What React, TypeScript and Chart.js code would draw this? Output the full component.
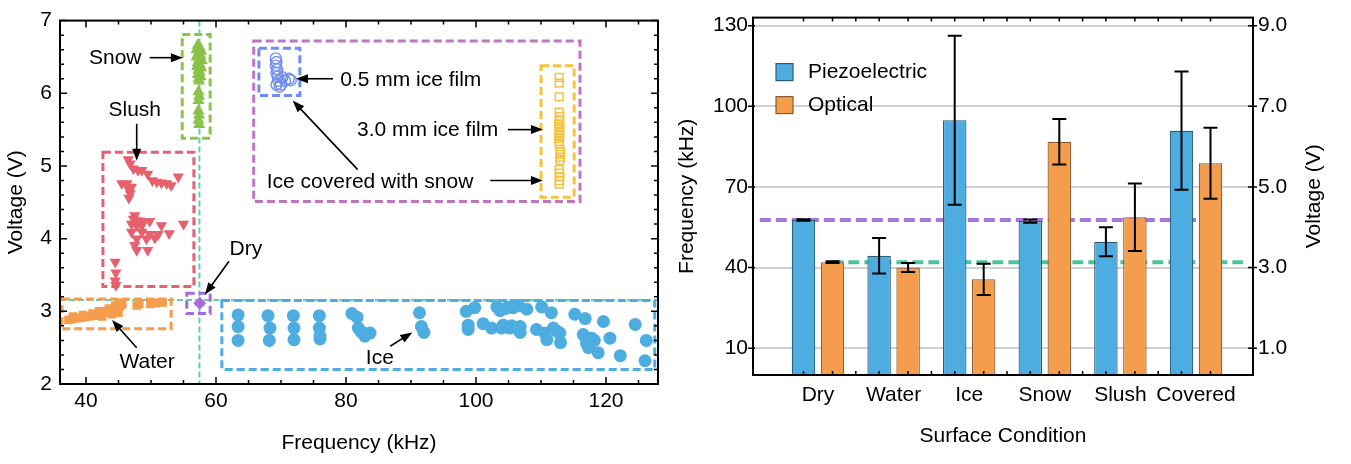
import React, { useEffect, useRef } from "react";
import { Chart, registerables } from "chart.js";

Chart.register(...registerables);

const FONT = '"Liberation Sans", Arial, Helvetica, sans-serif';
const FS = 21;

// ---------------- Left panel: scatter (frequency kHz, voltage V) ----------------
const leftFreqTicks = [40, 60, 80, 100, 120];
const leftVoltTicks = [2, 3, 4, 5, 6, 7];

const icePoints = [
  [63.4, 2.95], [63.4, 2.79], [63.4, 2.6],
  [68.0, 2.94], [68.3, 2.77], [68.2, 2.6],
  [71.9, 2.94], [72.0, 2.77], [72.0, 2.61],
  [75.9, 2.94], [75.9, 2.77], [76.0, 2.66], [76.0, 2.62],
  [80.9, 2.97], [81.7, 2.92], [81.9, 2.77], [82.7, 2.7], [83.7, 2.7], [82.9, 2.66], [82.3, 2.72],
  [91.3, 2.98], [91.6, 2.79], [92.0, 2.71],
  [98.5, 3.0], [99.8, 3.05], [98.8, 2.81], [98.8, 2.75], [101.1, 2.83], [102.4, 2.77], [103.2, 3.06],
  [103.7, 3.01], [104.2, 2.81], [105.0, 3.06], [105.2, 2.77], [105.7, 3.05], [106.5, 3.08], [106.8, 2.79],
  [107.8, 3.03], [106.8, 2.71], [104.6, 3.04], [105.5, 2.8], [103.9, 2.77],
  [110.1, 3.06], [111.6, 2.98], [109.3, 2.75], [110.6, 2.7], [110.9, 2.61], [111.9, 2.77], [112.9, 2.7],
  [113.0, 2.57], [112.4, 2.73],
  [115.2, 2.96], [116.8, 2.9], [116.5, 2.68], [117.8, 2.63], [117.3, 2.5], [118.8, 2.43], [119.6, 2.86],
  [120.6, 2.63], [122.2, 2.39], [124.5, 2.82], [126.2, 2.6], [126.0, 2.32], [117.0, 2.56], [118.2, 2.6],
];

const waterPoints = [
  [37.3, 2.88], [37.8, 2.89], [38.5, 2.9], [39.2, 2.91], [39.8, 2.92], [40.5, 2.93], [41.2, 2.94],
  [41.8, 2.95], [42.3, 2.97], [42.8, 2.98], [43.3, 3.0], [43.8, 3.01], [44.3, 3.03], [44.8, 3.05],
  [45.3, 3.07], [45.6, 3.1], [42.5, 2.93], [44.0, 2.96], [45.0, 2.98], [47.8, 3.08], [48.2, 3.1],
  [49.9, 3.1], [50.6, 3.11], [51.1, 3.12], [51.8, 3.12],
  [38.0, 2.93], [39.5, 2.95], [41.0, 2.97], [42.0, 3.0], [43.5, 3.04], [44.5, 3.08], [45.2, 3.12],
];

const dryPoints = [[57.5, 3.11]];

const slushPoints = [
  [46.5, 5.09], [46.8, 5.03], [47.3, 4.96], [48.0, 4.94], [48.6, 4.94], [49.5, 4.89], [50.2, 4.8],
  [50.9, 4.78], [51.6, 4.77], [52.4, 4.76], [53.1, 4.73], [54.2, 4.85], [45.5, 4.76], [46.3, 4.76],
  [46.5, 4.69], [46.8, 4.62], [46.6, 4.56], [47.0, 4.71],
  [47.5, 4.32], [47.3, 4.27], [48.0, 4.25], [48.8, 4.24], [49.8, 4.24], [47.0, 4.2], [47.8, 4.18],
  [48.6, 4.18], [51.6, 4.18], [55.0, 4.2], [47.0, 4.09], [48.6, 4.09], [49.8, 4.06], [51.1, 4.06],
  [52.8, 4.07], [47.8, 4.0], [49.3, 4.0], [50.6, 4.01], [47.8, 3.84], [49.5, 3.84], [47.5, 3.91],
  [44.5, 3.68], [44.6, 3.53], [44.5, 3.42], [44.6, 3.36],
];

const snowPoints = [
  [57.2, 6.66], [57.5, 6.63], [57.0, 6.6], [57.7, 6.58], [57.3, 6.55], [57.6, 6.52], [57.0, 6.5],
  [57.4, 6.47], [57.8, 6.45], [57.2, 6.42], [57.5, 6.4], [57.1, 6.37], [57.7, 6.35], [57.3, 6.32],
  [57.5, 6.29], [57.2, 6.26], [57.6, 6.23], [57.3, 6.2], [57.4, 6.17], [57.3, 6.02], [57.4, 5.96],
  [57.3, 5.9], [57.3, 5.76], [57.4, 5.7], [57.3, 5.63], [57.4, 5.57],
];

const film05Points = [
  [69.2, 6.48], [69.3, 6.43], [69.2, 6.38], [69.4, 6.33], [69.3, 6.28], [69.5, 6.23], [69.6, 6.17],
  [69.3, 6.12], [70.0, 6.12], [70.6, 6.17], [71.2, 6.2], [71.5, 6.18], [70.2, 6.22], [69.8, 6.09],
];

const film30Points = [
  [112.8, 6.22], [112.8, 6.14], [112.8, 5.95], [112.8, 5.74], [112.9, 5.68], [112.8, 5.62], [112.7, 5.58],
  [112.9, 5.54], [112.8, 5.5], [112.8, 5.46], [112.9, 5.42], [112.7, 5.38], [112.8, 5.34], [112.8, 5.3],
  [113.0, 5.2], [112.9, 5.16], [113.0, 5.12], [112.9, 5.08], [112.8, 4.95], [112.8, 4.9], [112.9, 4.85],
  [112.8, 4.8], [112.8, 4.75],
];

// ---------------- Right panel: bars ----------------
const categories = ["Dry", "Water", "Ice", "Snow", "Slush", "Covered"];
const piezoFreq = [57.7, 44.4, 94.8, 57.3, 49.6, 90.9];
const piezoErr = [0.3, 6.6, 31.4, 0.6, 5.4, 22.0];
const opticalFreq = [42.0, 40.0, 35.6, 86.8, 58.7, 78.8];
const opticalErr = [0.3, 1.7, 5.8, 8.5, 12.6, 13.2];
const freqTicks = [10, 40, 70, 100, 130];
const voltTicks = [1, 3, 5, 7, 9];
const dryPiezoLevel = 57.7;
const dryOpticalLevel = 42.0;

// colours
const BLUE = "#4eade0";
const ORANGE = "#f49d4c";
const GREEN = "#8bc34a";
const RED = "#e6606e";
const DRY_PURPLE = "#a66bd8";
const BOX_PURPLE = "#c274c2";
const FILM_BLUE = "#6f8cf2";
const YELLOW = "#f8c23a";
const TEAL = "#64cdb0";

// annotations of left panel (data coordinates)
const leftBoxes = [
  { x1: 54.8, x2: 59.1, y1: 5.38, y2: 6.81, color: GREEN },
  { x1: 42.6, x2: 56.6, y1: 3.34, y2: 5.19, color: RED },
  { x1: 65.8, x2: 116.0, y1: 4.51, y2: 6.72, color: BOX_PURPLE },
  { x1: 66.6, x2: 72.9, y1: 5.97, y2: 6.62, color: FILM_BLUE },
  { x1: 110.0, x2: 115.1, y1: 4.57, y2: 6.38, color: YELLOW },
  { x1: 36.3, x2: 53.1, y1: 2.76, y2: 3.17, color: ORANGE },
  { x1: 55.5, x2: 59.1, y1: 2.97, y2: 3.25, color: DRY_PURPLE },
  { x1: 60.9, x2: 127.5, y1: 2.2, y2: 3.15, color: BLUE },
];
const guideFreq = 57.45;
const guideVolt = 3.155;
const leftLabels = [
  { text: "Snow", x: 44.5, y: 6.48, align: "center" },
  { text: "Slush", x: 47.5, y: 5.77, align: "center" },
  { text: "0.5 mm ice film", x: 79.1, y: 6.18, align: "left" },
  { text: "3.0 mm ice film", x: 81.7, y: 5.49, align: "left" },
  { text: "Ice covered with snow", x: 67.8, y: 4.78, align: "left" },
  { text: "Dry", x: 64.6, y: 3.86, align: "center" },
  { text: "Water", x: 49.4, y: 2.3, align: "center" },
  { text: "Ice", x: 85.2, y: 2.35, align: "center" },
];
const leftArrows = [
  { from: [49.8, 6.49], to: [54.9, 6.49] },
  { from: [47.8, 5.58], to: [47.8, 5.07] },
  { from: [78.0, 6.2], to: [72.3, 6.2] },
  { from: [81.8, 4.95], to: [71.8, 5.9] },
  { from: [102.2, 4.8], to: [110.3, 4.8] },
  { from: [104.9, 5.5], to: [110.3, 5.5] },
  { from: [62.0, 3.69], to: [58.3, 3.23] },
  { from: [47.8, 2.5], to: [44.0, 2.88] },
  { from: [86.8, 2.52], to: [90.2, 2.71] },
];

const toXY = (pts: number[][]) => pts.map(([x, y]) => ({ x, y }));

function drawArrow(ctx: CanvasRenderingContext2D, x1: number, y1: number, x2: number, y2: number) {
  const ang = Math.atan2(y2 - y1, x2 - x1);
  const hl = 12;
  const hw = 4.5;
  const bx = x2 - Math.cos(ang) * hl;
  const by = y2 - Math.sin(ang) * hl;
  ctx.setLineDash([]);
  ctx.strokeStyle = "#000";
  ctx.fillStyle = "#000";
  ctx.lineWidth = 1.6;
  ctx.beginPath();
  ctx.moveTo(x1, y1);
  ctx.lineTo(bx + Math.cos(ang) * 2, by + Math.sin(ang) * 2);
  ctx.stroke();
  ctx.beginPath();
  ctx.moveTo(x2, y2);
  ctx.lineTo(bx - Math.sin(ang) * hw, by + Math.cos(ang) * hw);
  ctx.lineTo(bx + Math.sin(ang) * hw, by - Math.cos(ang) * hw);
  ctx.closePath();
  ctx.fill();
}

const leftDecor = {
  id: "leftDecor",
  beforeDatasetsDraw(chart: any) {
    const { ctx, chartArea: a, scales } = chart;
    const x = scales.x;
    const y = scales.y;
    ctx.save();
    ctx.beginPath();
    ctx.rect(a.left, a.top, a.right - a.left, a.bottom - a.top);
    ctx.clip();
    // guide lines
    ctx.strokeStyle = TEAL;
    ctx.lineWidth = 2;
    ctx.setLineDash([6, 3]);
    const gx = x.getPixelForValue(guideFreq);
    const gy = y.getPixelForValue(guideVolt);
    ctx.beginPath();
    ctx.moveTo(gx, a.top);
    ctx.lineTo(gx, a.bottom);
    ctx.moveTo(a.left, gy);
    ctx.lineTo(a.right, gy);
    ctx.stroke();
    // boxes
    ctx.lineWidth = 3;
    ctx.setLineDash([8, 4]);
    for (const b of leftBoxes) {
      const px1 = x.getPixelForValue(b.x1);
      const px2 = x.getPixelForValue(b.x2);
      const py1 = y.getPixelForValue(b.y2);
      const py2 = y.getPixelForValue(b.y1);
      ctx.strokeStyle = b.color;
      ctx.strokeRect(px1, py1, px2 - px1, py2 - py1);
    }
    ctx.restore();
  },
  afterDatasetsDraw(chart: any) {
    const { ctx, chartArea: a, scales } = chart;
    const x = scales.x;
    const y = scales.y;
    ctx.save();
    for (const ar of leftArrows) {
      drawArrow(
        ctx,
        x.getPixelForValue(ar.from[0]),
        y.getPixelForValue(ar.from[1]),
        x.getPixelForValue(ar.to[0]),
        y.getPixelForValue(ar.to[1])
      );
    }
    ctx.fillStyle = "#000";
    ctx.font = `${FS}px ${FONT}`;
    ctx.textBaseline = "middle";
    for (const l of leftLabels) {
      ctx.textAlign = l.align as CanvasTextAlign;
      ctx.fillText(l.text, x.getPixelForValue(l.x), y.getPixelForValue(l.y));
    }
    // frame
    ctx.setLineDash([]);
    ctx.strokeStyle = "#000";
    ctx.lineWidth = 2;
    ctx.strokeRect(a.left, a.top, a.right - a.left, a.bottom - a.top);
    // ticks
    ctx.lineWidth = 1.5;
    ctx.beginPath();
    for (let f = 40; f <= 125; f += 5) {
      const px = x.getPixelForValue(f);
      const len = f % 20 === 0 ? 7 : 4;
      ctx.moveTo(px, a.bottom);
      ctx.lineTo(px, a.bottom - len);
      ctx.moveTo(px, a.top);
      ctx.lineTo(px, a.top + len);
    }
    for (let k = 0; k <= 25; k++) {
      const v = 2 + k * 0.2;
      const py = y.getPixelForValue(v);
      const len = k % 5 === 0 ? 7 : 4;
      ctx.moveTo(a.left, py);
      ctx.lineTo(a.left + len, py);
      ctx.moveTo(a.right, py);
      ctx.lineTo(a.right - len, py);
    }
    ctx.stroke();
    ctx.restore();
  },
};

const rightDecor = {
  id: "rightDecor",
  beforeDatasetsDraw(chart: any) {
    const { ctx, scales } = chart;
    const x = scales.x;
    const y = scales.y;
    ctx.save();
    ctx.lineWidth = 4;
    ctx.setLineDash([11, 5]);
    ctx.strokeStyle = "#a674dd";
    ctx.beginPath();
    ctx.moveTo(x.getPixelForValue(-0.77), y.getPixelForValue(dryPiezoLevel));
    ctx.lineTo(x.getPixelForValue(5.0), y.getPixelForValue(dryPiezoLevel));
    ctx.stroke();
    ctx.strokeStyle = "#4cc59c";
    ctx.beginPath();
    ctx.moveTo(x.getPixelForValue(0.19), y.getPixelForValue(dryOpticalLevel));
    ctx.lineTo(x.getPixelForValue(5.62), y.getPixelForValue(dryOpticalLevel));
    ctx.stroke();
    ctx.restore();
  },
  afterDatasetsDraw(chart: any) {
    const { ctx, chartArea: a, scales } = chart;
    const x = scales.x;
    const y = scales.y;
    const y1 = scales.y1;
    ctx.save();
    // error bars
    const errs = [piezoErr, opticalErr];
    const vals = [piezoFreq, opticalFreq];
    ctx.strokeStyle = "#000";
    ctx.lineWidth = 2;
    for (let d = 0; d < 2; d++) {
      const meta = chart.getDatasetMeta(d);
      meta.data.forEach((el: any, i: number) => {
        const px = el.x;
        const t = y.getPixelForValue(vals[d][i] + errs[d][i]);
        const b = y.getPixelForValue(vals[d][i] - errs[d][i]);
        ctx.beginPath();
        ctx.moveTo(px, t);
        ctx.lineTo(px, b);
        ctx.moveTo(px - 7, t);
        ctx.lineTo(px + 7, t);
        ctx.moveTo(px - 7, b);
        ctx.lineTo(px + 7, b);
        ctx.stroke();
      });
    }
    // frame
    ctx.lineWidth = 2;
    ctx.strokeRect(a.left, a.top, a.right - a.left, a.bottom - a.top);
    // ticks
    ctx.lineWidth = 1.5;
    ctx.beginPath();
    const tickXs: number[] = [];
    for (let d = 0; d < 2; d++) {
      chart.getDatasetMeta(d).data.forEach((el: any) => tickXs.push(el.x));
    }
    for (let i = 0; i < categories.length - 1; i++) tickXs.push(x.getPixelForValue(i + 0.5));
    for (const px of tickXs) {
      ctx.moveTo(px, a.bottom);
      ctx.lineTo(px, a.bottom - 4);
      ctx.moveTo(px, a.top);
      ctx.lineTo(px, a.top + 4);
    }
    for (const f of freqTicks) {
      const py = y.getPixelForValue(f);
      ctx.moveTo(a.left - 5, py);
      ctx.lineTo(a.left + 2, py);
    }
    for (const v of voltTicks) {
      const py = y1.getPixelForValue(v);
      ctx.moveTo(a.right - 5, py);
      ctx.lineTo(a.right + 4, py);
    }
    ctx.stroke();
    // legend
    const ds = chart.data.datasets;
    ctx.font = `${FS}px ${FONT}`;
    ctx.textBaseline = "middle";
    ctx.textAlign = "left";
    ds.forEach((s: any, k: number) => {
      const bx = a.left + 23;
      const by = a.top + 46 + k * 33;
      ctx.fillStyle = s.backgroundColor;
      ctx.fillRect(bx, by, 17, 17);
      ctx.strokeStyle = s.borderColor;
      ctx.lineWidth = 1.2;
      ctx.strokeRect(bx, by, 17, 17);
      ctx.fillStyle = "#000";
      ctx.fillText(s.label, bx + 32, by + 9);
    });
    // right axis title (reads bottom-to-top)
    ctx.save();
    ctx.translate(a.right + 61, (a.top + a.bottom) / 2);
    ctx.rotate(-Math.PI / 2);
    ctx.textAlign = "center";
    ctx.textBaseline = "middle";
    ctx.fillStyle = "#000";
    ctx.fillText("Voltage (V)", 0, 0);
    ctx.restore();
    ctx.restore();
  },
};

function leftConfig(): any {
  const pt = (data: number[][], label: string, o: any) => ({
    label,
    data: toXY(data),
    pointHoverRadius: o.pointRadius,
    ...o,
  });
  return {
    type: "scatter",
    data: {
      datasets: [
        pt(icePoints, "Ice", { pointStyle: "circle", pointRadius: 6.5, pointBackgroundColor: BLUE, pointBorderColor: BLUE, pointBorderWidth: 0 }),
        pt(waterPoints, "Water", { pointStyle: "rect", pointRadius: 6, pointBackgroundColor: ORANGE, pointBorderColor: ORANGE, pointBorderWidth: 0 }),
        pt(dryPoints, "Dry", { pointStyle: "rectRot", pointRadius: 6.5, pointBackgroundColor: DRY_PURPLE, pointBorderColor: DRY_PURPLE, pointBorderWidth: 0 }),
        pt(slushPoints, "Slush", { pointStyle: "triangle", pointRotation: 180, pointRadius: 6.5, pointBackgroundColor: RED, pointBorderColor: RED, pointBorderWidth: 0 }),
        pt(snowPoints, "Snow", { pointStyle: "triangle", pointRadius: 7, pointBackgroundColor: GREEN, pointBorderColor: GREEN, pointBorderWidth: 0 }),
        pt(film05Points, "0.5 mm ice film", { pointStyle: "circle", pointRadius: 5.5, pointBackgroundColor: "rgba(255,255,255,0)", pointBorderColor: FILM_BLUE, pointBorderWidth: 1.4 }),
        pt(film30Points, "3.0 mm ice film", { pointStyle: "rect", pointRadius: 5.5, pointBackgroundColor: "rgba(255,255,255,0)", pointBorderColor: YELLOW, pointBorderWidth: 1.5 }),
      ],
    },
    options: {
      responsive: false,
      animation: false,
      events: [],
      layout: { padding: { left: 0, top: 11, right: 17, bottom: 0 } },
      plugins: { legend: { display: false }, tooltip: { enabled: false } },
      scales: {
        x: {
          type: "linear",
          min: 36,
          max: 128,
          grid: { display: false, drawTicks: false },
          border: { display: false },
          afterBuildTicks: (s: any) => { s.ticks = leftFreqTicks.map((v) => ({ value: v })); },
          afterFit: (s: any) => { s.height = 80; },
          ticks: { padding: 5, color: "#000", font: { size: FS, family: FONT }, autoSkip: false, maxRotation: 0 },
          title: { display: true, text: "Frequency (kHz)", color: "#000", font: { size: FS, family: FONT }, padding: { top: 0, bottom: 8 } },
        },
        y: {
          type: "linear",
          min: 2,
          max: 7,
          grid: { display: false, drawTicks: false },
          border: { display: false },
          afterBuildTicks: (s: any) => { s.ticks = leftVoltTicks.map((v) => ({ value: v })); },
          afterFit: (s: any) => { s.width = 60; },
          ticks: { padding: 8, color: "#000", font: { size: FS, family: FONT }, autoSkip: false },
          title: { display: true, text: "Voltage (V)", color: "#000", font: { size: FS, family: FONT }, padding: { top: 4, bottom: 0 } },
        },
      },
    },
    plugins: [leftDecor],
  };
}

function rightConfig(): any {
  const freqMin = 0;
  const freqMax = 133;
  const toVolt = (f: number) => (f + 5) / 15;
  return {
    type: "bar",
    data: {
      datasets: [
        {
          label: "Piezoelectric",
          data: categories.map((_, i) => ({ x: i, y: piezoFreq[i] })),
          backgroundColor: BLUE,
          borderColor: "#2b5c76",
          borderWidth: 1.2,
          categoryPercentage: 0.767,
          barPercentage: 0.81,
          yAxisID: "y",
        },
        {
          label: "Optical",
          data: categories.map((_, i) => ({ x: i, y: opticalFreq[i] })),
          backgroundColor: ORANGE,
          borderColor: "#8a5a2e",
          borderWidth: 1.2,
          categoryPercentage: 0.767,
          barPercentage: 0.81,
          yAxisID: "y",
        },
      ],
    },
    options: {
      responsive: false,
      animation: false,
      events: [],
      layout: { padding: { left: 0, top: 17, right: 0, bottom: 0 } },
      plugins: { legend: { display: false }, tooltip: { enabled: false } },
      scales: {
        x: {
          type: "linear",
          min: -0.86,
          max: 5.754,
          offset: false,
          grid: { display: false, drawTicks: false },
          border: { display: false },
          afterBuildTicks: (s: any) => { s.ticks = categories.map((_, i) => ({ value: i })); },
          afterFit: (s: any) => { s.height = 89; },
          ticks: {
            padding: 8,
            color: "#000",
            font: { size: FS, family: FONT },
            autoSkip: false,
            maxRotation: 0,
            callback: (v: any) => categories[Math.round(Number(v))],
          },
          title: { display: true, text: "Surface Condition", color: "#000", font: { size: FS, family: FONT }, padding: { top: 0, bottom: 15 } },
        },
        y: {
          type: "linear",
          position: "left",
          min: freqMin,
          max: freqMax,
          grid: { color: "#d0d0d0", lineWidth: 2, drawTicks: false },
          border: { display: false },
          afterBuildTicks: (s: any) => { s.ticks = freqTicks.map((v) => ({ value: v })); },
          afterFit: (s: any) => { s.width = 78; },
          ticks: { padding: 5, color: "#000", font: { size: FS, family: FONT }, autoSkip: false },
          title: { display: true, text: "Frequency (kHz)", color: "#000", font: { size: FS, family: FONT }, padding: { top: 0, bottom: 0 } },
        },
        y1: {
          type: "linear",
          position: "right",
          min: toVolt(freqMin),
          max: toVolt(freqMax),
          grid: { display: false, drawTicks: false },
          border: { display: false },
          afterBuildTicks: (s: any) => { s.ticks = voltTicks.map((v) => ({ value: v })); },
          afterFit: (s: any) => { s.width = 98; },
          ticks: {
            padding: 5,
            color: "#000",
            font: { size: FS, family: FONT },
            autoSkip: false,
            callback: (v: any) => Number(v).toFixed(1),
          },
        },
      },
    },
    plugins: [rightDecor],
  };
}

export default function App() {
  const leftRef = useRef<HTMLCanvasElement>(null);
  const rightRef = useRef<HTMLCanvasElement>(null);
  useEffect(() => {
    Chart.defaults.font.family = FONT;
    Chart.defaults.font.size = FS;
    Chart.defaults.color = "#000";
    const c1 = new Chart(leftRef.current as HTMLCanvasElement, leftConfig());
    const c2 = new Chart(rightRef.current as HTMLCanvasElement, rightConfig());
    return () => {
      c1.destroy();
      c2.destroy();
    };
  }, []);
  return (
    <div style={{ position: "fixed", left: 0, top: 0, width: 1351, height: 464, background: "#fff", overflow: "hidden" }}>
      <canvas ref={leftRef} width={675} height={464} style={{ position: "absolute", left: 0, top: 0 }} />
      <canvas ref={rightRef} width={676} height={464} style={{ position: "absolute", left: 675, top: 0 }} />
    </div>
  );
}
